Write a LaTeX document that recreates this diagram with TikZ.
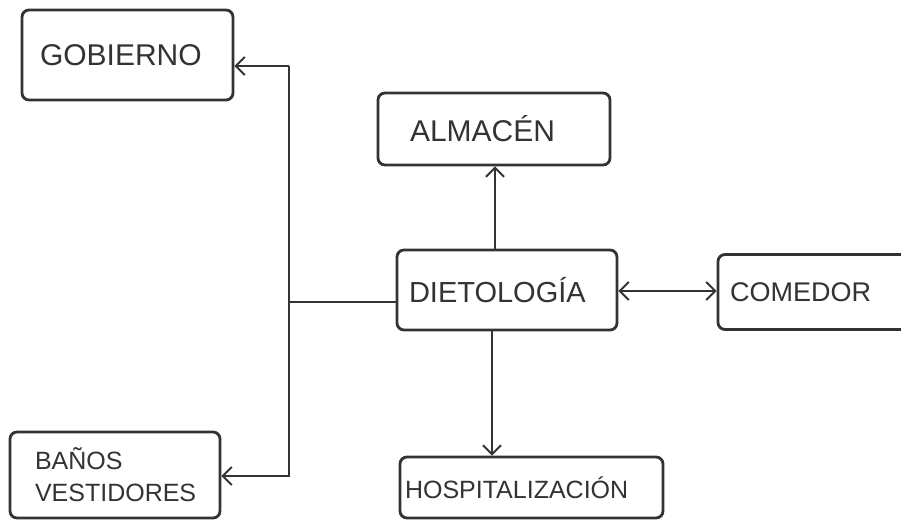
\documentclass[tikz,border=0pt]{standalone}
\usepackage{fontspec}
\setmainfont{Liberation Sans}
\usetikzlibrary{arrows.meta}
\definecolor{ink}{HTML}{333333}
\tikzset{
  box/.style={draw=ink, line width=2.8pt, rounded corners=7pt, rectangle,
    inner xsep=16pt, inner ysep=0pt, align=left, text=ink, anchor=center},
  conn/.style={draw=ink, line width=2.2pt},
  barb/.tip={Straight Barb[length=9pt,width=18pt,line width=2pt]},
  tip/.style={-barb},
}
\begin{document}
\begin{tikzpicture}[x=1pt,y=-1pt]
\useasboundingbox[fill=white] (0,0) rectangle (901,523);
\clip (0,0) rectangle (901,523);
\node[box, minimum width=211pt, minimum height=90pt, inner xsep=18pt, text width=175pt, font=\fontsize{30}{32}\selectfont] (gob) at (127.5,55) {\raisebox{-5pt}{GOBIERNO}};
\node[box, minimum width=232pt, minimum height=72pt, inner xsep=32pt, text width=168pt, font=\fontsize{30}{32}\selectfont] (alm) at (494,129) {ALMACÉN};
\node[box, minimum width=220pt, minimum height=80pt, inner xsep=12pt, text width=196pt, font=\fontsize{29}{32}\selectfont] (die) at (507,290) {DIETOLOGÍA};
\node[box, minimum width=230pt, minimum height=75pt, inner xsep=12pt, text width=206pt, font=\fontsize{27}{30}\selectfont] (com) at (833,292) {COMEDOR};
\node[box, minimum width=210pt, minimum height=86pt, inner xsep=25pt, text width=160pt, font=\fontsize{25}{32}\selectfont] (ban) at (115,475) {BAÑOS\\VESTIDORES};
\node[box, minimum width=263pt, minimum height=61pt, inner xsep=5pt, text width=253pt, font=\fontsize{25}{28}\selectfont] (hos) at (531.5,487.5) {HOSPITALIZACIÓN};
\coordinate (tr) at (289,66);
\coordinate (br) at (289,476);
\coordinate (mid) at (289,302);
\draw[conn, tip] (tr) -- (gob.east |- tr);
\draw[conn, tip] (tr) -- (br) -- (ban.east |- br);
\draw[conn] (die.west |- mid) -- (mid);
\draw[conn, tip] (die.north -| 495,0) -- (alm.south -| 495,0);
\draw[conn, tip] (die.south -| 492,0) -- (hos.north -| 492,0);
\draw[conn, barb-barb] (die.east |- 0,291) -- (com.west |- 0,291);
\end{tikzpicture}
\end{document}
